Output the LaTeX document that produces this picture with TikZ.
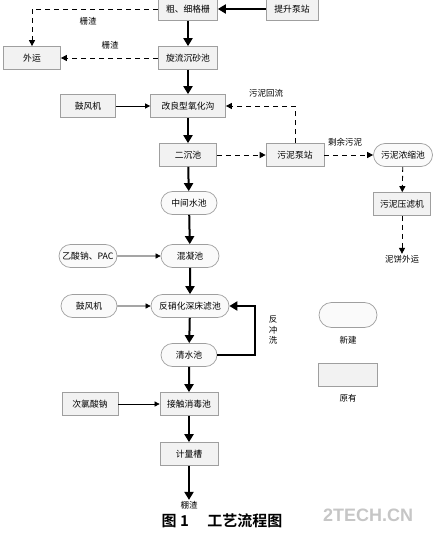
\documentclass[tikz,border=0pt]{standalone}
\usepackage{fontspec}
\setmainfont{Noto Sans CJK SC}[BoldFont={Noto Sans CJK SC Bold}]
\newfontfamily\markfont{Liberation Sans}
\usepackage{tikz}
\usetikzlibrary{
    arrows.meta,
    shapes.misc
}

\begin{document}
\begin{tikzpicture}[
    x=1pt,
    y=-1pt,
    oldbox/.style={
        rectangle,
        draw=gray!75,
        fill=gray!10,
        line width=0.7pt,
        minimum width=58pt,
        minimum height=23pt,
        inner sep=1pt,
        font=\fontsize{8.8}{10}\selectfont
    },
    newbox/.style={
        rounded rectangle,
        draw=gray!75,
        fill=gray!4,
        line width=0.7pt,
        minimum width=58pt,
        minimum height=23pt,
        inner sep=1pt,
        font=\fontsize{8.8}{10}\selectfont
    },
    note/.style={
        font=\fontsize{8.5}{10.5}\selectfont,
        inner sep=1pt
    },
    mainflow/.style={
        -{Triangle[length=8pt,width=9pt]},
        line width=2pt
    },
    dosing/.style={
        -{Triangle[length=5pt,width=5pt]},
        line width=0.6pt
    },
    sludge/.style={
        -{Triangle[length=6pt,width=6pt]},
        line width=0.9pt,
        dash pattern=on 5pt off 4pt
    }
]

\useasboundingbox (0,0) rectangle (433,537);

% ============================================================
% PRETREATMENT
% ============================================================

\node[oldbox, minimum width=59pt]
    (grille) at (188,9) {粗、细格栅};

\node[oldbox, minimum width=52pt]
    (liftpump) at (292,9) {提升泵站};

\node[oldbox, minimum width=57pt]
    (haul) at (32,58) {外运};

\node[oldbox, minimum width=59pt]
    (grit) at (188,58) {旋流沉砂池};

\draw[mainflow] (liftpump) -- (grille);
\draw[mainflow] (grille) -- (grit);

% Screenings
\draw[sludge] (grille.west) -| (haul.north);
\node[note] (screenA) at (88,21) {栅渣};

\draw[sludge] (grit) -- (haul);
\node[note] (screenB) at (110,45) {栅渣};

% ============================================================
% BIOLOGICAL TREATMENT
% ============================================================

\node[oldbox, minimum width=55pt]
    (blowerA) at (88,106) {鼓风机};

\node[oldbox, minimum width=75pt]
    (ditch) at (188,106) {改良型氧化沟};

\node[oldbox, minimum width=57pt]
    (clarifier) at (188,155) {二沉池};

\draw[mainflow] (grit) -- (ditch);
\draw[dosing] (blowerA) -- (ditch);
\draw[mainflow] (ditch) -- (clarifier);

% ============================================================
% SLUDGE LINE
% ============================================================

\node[oldbox, minimum width=58pt]
    (sludgepump) at (295,155) {污泥泵站};

\node[newbox, minimum width=61pt]
    (thickener) at (403,155) {污泥浓缩池};

\node[oldbox, minimum width=57pt]
    (filterpress) at (402,204) {污泥压滤机};

\node[note] (cake) at (402,259) {泥饼外运};

\draw[sludge] (clarifier) -- (sludgepump);

\draw[sludge] (sludgepump.north) |- (ditch.east);
\node[note] (returnlbl) at (266,93) {污泥回流};

\draw[sludge] (sludgepump) -- (thickener);
\node[note] (excesslbl) at (345,142) {剩余污泥};

\draw[sludge] (thickener) -- (filterpress);
\draw[sludge] (filterpress) -- (cake);

% ============================================================
% ADVANCED TREATMENT
% ============================================================

\node[newbox, minimum width=58pt]
    (midtank) at (189,203) {中间水池};

\node[newbox, minimum width=60pt]
    (acetate) at (88,256) {乙酸钠、PAC};

\node[newbox, minimum width=60pt]
    (coag) at (190,256) {混凝池};

\node[newbox, minimum width=58pt]
    (blowerB) at (89,306) {鼓风机};

\node[newbox, minimum width=80pt]
    (denitri) at (190,306) {反硝化深床滤池};

\node[newbox, minimum width=58pt]
    (cleartank) at (189,355) {清水池};

\draw[mainflow] (clarifier) -- (midtank);
\draw[mainflow] (midtank) -- (coag);
\draw[dosing] (acetate) -- (coag);
\draw[mainflow] (coag) -- (denitri);
\draw[dosing] (blowerB) -- (denitri);
\draw[mainflow] (denitri) -- (cleartank);

% Backwash
\coordinate (bwturn) at (255,355);
\draw[mainflow] (cleartank.east) -- (bwturn) |- (denitri.east);
\node[note, align=center] (backwash) at (273,330) {反\\冲\\洗};

% ============================================================
% DISINFECTION AND OUTLET
% ============================================================

\node[oldbox, minimum width=56pt]
    (hypo) at (90,404) {次氯酸钠};

\node[oldbox, minimum width=58pt]
    (contact) at (189,404) {接触消毒池};

\node[oldbox, minimum width=58pt]
    (meter) at (189,454) {计量槽};

\node[note] (outlet) at (189,505) {棚渣};

\draw[mainflow] (cleartank) -- (contact);
\draw[dosing] (hypo) -- (contact);
\draw[mainflow] (contact) -- (meter);
\draw[mainflow] (meter) -- (outlet);

% ============================================================
% LEGEND
% ============================================================

\node[newbox, minimum width=60pt, minimum height=25pt]
    (legnew) at (348,315) {};
\node[note] (legnewlbl) at (348,340) {新建};

\node[oldbox, minimum width=59pt, minimum height=23pt]
    (legold) at (348,375) {};
\node[note] (legoldlbl) at (348,398) {原有};

% Caption
\node[font=\fontsize{15}{17}\selectfont\bfseries]
    (caption) at (222,521) {图 1\quad\ 工艺流程图};

\node[font=\markfont\bfseries\fontsize{18}{20}\selectfont, text=gray!45]
    (mark) at (368,515) {2TECH.CN};

\end{tikzpicture}
\end{document}
